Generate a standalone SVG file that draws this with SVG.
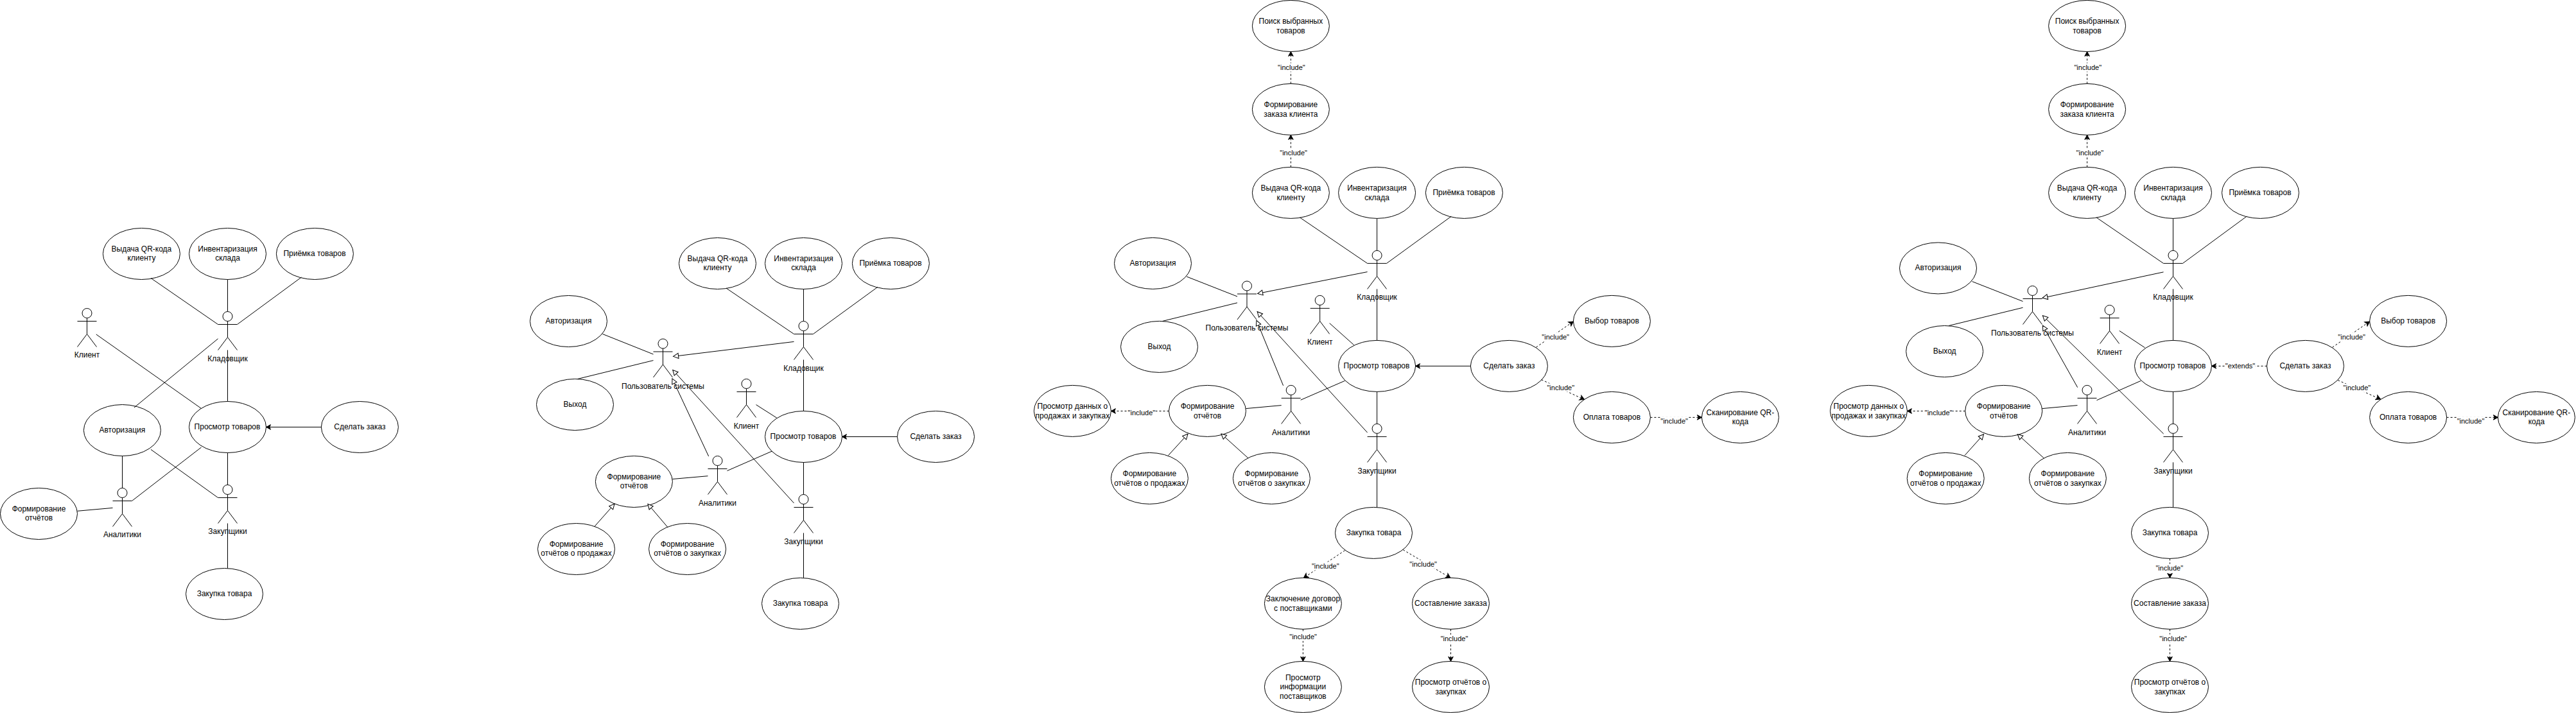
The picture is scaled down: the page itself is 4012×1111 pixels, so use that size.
<svg xmlns="http://www.w3.org/2000/svg" xmlns:xlink="http://www.w3.org/1999/xlink" width="4012" height="1111" viewBox="0 0 4012 1111">
<style>
text{font-family:"Liberation Sans",Arial,sans-serif;font-size:12px;fill:#000;text-anchor:middle}
.u{fill:#fff;stroke:#000;stroke-width:1}
.ac *{fill:none;stroke:#000;stroke-width:1}
#conn line{stroke:#000;stroke-width:1;fill:none}
#conn line.d{stroke-dasharray:3 3}
#conn line.f{marker-end:url(#classic)}
#conn line.h{marker-end:url(#block)}
#conn rect{fill:#fff;stroke:none}
#conn text{font-size:11px}
</style>
<defs>
<marker id="classic" markerUnits="userSpaceOnUse" markerWidth="10" markerHeight="10" viewBox="0 0 10 10" refX="8" refY="5" orient="auto"><path d="M8,5 L1,1.2 L2.8,5 L1,8.8 Z" fill="#000" stroke="#000" stroke-width="1"/></marker>
<marker id="block" markerUnits="userSpaceOnUse" markerWidth="11" markerHeight="11" viewBox="0 0 11 11" refX="9" refY="5.5" orient="auto"><path d="M9,5.5 L1,1.5 L1,9.5 Z" fill="#fff" stroke="#000" stroke-width="1"/></marker>
<g id="actor" class="ac"><ellipse cx="15" cy="7.5" rx="7.5" ry="7.5"/><path d="M15,15V40M0,20H30M15,40L0,60M15,40L30,60"/></g>
</defs>
<rect width="4012" height="1111" fill="#fff"/>

<g id="panel1">
<g id="a-vydacha"><ellipse class="u" cx="220.4" cy="395.5" rx="60" ry="40"/><text><tspan x="220.4" y="391.8">Выдача QR-кода</tspan><tspan x="220.4" y="406.2">клиенту</tspan></text></g>
<g id="a-invent"><ellipse class="u" cx="354.5" cy="395.5" rx="60" ry="40"/><text><tspan x="354.5" y="391.8">Инвентаризация</tspan><tspan x="354.5" y="406.2">склада</tspan></text></g>
<g id="a-priemka"><ellipse class="u" cx="490.4" cy="395.5" rx="60" ry="40"/><text x="490" y="398.5">Приёмка товаров</text></g>
<g id="a-prosmotr"><ellipse class="u" cx="354.5" cy="665.5" rx="60" ry="40"/><text x="354" y="668.5">Просмотр товаров</text></g>
<g id="a-avtor"><ellipse class="u" cx="190.4" cy="670.5" rx="60" ry="40"/><text x="190.4" y="673.5">Авторизация</text></g>
<g id="a-zakaz"><ellipse class="u" cx="560.4" cy="665.5" rx="60" ry="40"/><text x="560.4" y="668.5">Сделать заказ</text></g>
<g id="a-otchet"><ellipse class="u" cx="60.5" cy="800.5" rx="60" ry="40"/><text><tspan x="60.5" y="796.5">Формирование</tspan><tspan x="60.5" y="811">отчётов</tspan></text></g>
<g id="a-zakupka"><ellipse class="u" cx="349.5" cy="925.5" rx="60" ry="40"/><text x="349.5" y="928.5">Закупка товара</text></g>
<g id="a-kladov"><use href="#actor" x="339.5" y="485.5"/><text x="354.5" y="562.8">Кладовщик</text></g>
<g id="a-klient"><use href="#actor" x="120.5" y="480.5"/><text x="135.5" y="557.4">Клиент</text></g>
<g id="a-zakup"><use href="#actor" x="339.5" y="755.5"/><text x="354.5" y="832.3">Закупщики</text></g>
<g id="a-analit"><use href="#actor" x="175.5" y="760.5"/><text x="190.5" y="837">Аналитики</text></g>
</g>

<g id="panel2">
<g id="b-vydacha"><ellipse class="u" cx="1117.5" cy="410.5" rx="60" ry="40"/><text><tspan x="1117.5" y="406.5">Выдача QR-кода</tspan><tspan x="1117.5" y="421">клиенту</tspan></text></g>
<g id="b-invent"><ellipse class="u" cx="1251.5" cy="410.5" rx="60" ry="40"/><text><tspan x="1251.5" y="406.5">Инвентаризация</tspan><tspan x="1251.5" y="421">склада</tspan></text></g>
<g id="b-priemka"><ellipse class="u" cx="1387.4" cy="410.5" rx="60" ry="40"/><text x="1387" y="413.5">Приёмка товаров</text></g>
<g id="b-avtor"><ellipse class="u" cx="885.5" cy="500.5" rx="60" ry="40"/><text x="885.5" y="503.5">Авторизация</text></g>
<g id="b-vyhod"><ellipse class="u" cx="895.5" cy="630.5" rx="60" ry="40"/><text x="895.5" y="633.5">Выход</text></g>
<g id="b-prosmotr"><ellipse class="u" cx="1251.5" cy="680.5" rx="60" ry="40"/><text x="1251" y="683.5">Просмотр товаров</text></g>
<g id="b-zakaz"><ellipse class="u" cx="1457.5" cy="680.5" rx="60" ry="40"/><text x="1457.5" y="683.5">Сделать заказ</text></g>
<g id="b-otchet"><ellipse class="u" cx="987.4" cy="750.5" rx="60" ry="40"/><text><tspan x="987.4" y="746.7">Формирование</tspan><tspan x="987.4" y="761.3">отчётов</tspan></text></g>
<g id="b-prod"><ellipse class="u" cx="897.5" cy="855.5" rx="60" ry="40"/><text><tspan x="897.5" y="851.5">Формирование</tspan><tspan x="897.5" y="866">отчётов о продажах</tspan></text></g>
<g id="b-zakup-ot"><ellipse class="u" cx="1070.6" cy="855.5" rx="60" ry="40"/><text><tspan x="1070.6" y="851.5">Формирование</tspan><tspan x="1070.6" y="866">отчётов о закупках</tspan></text></g>
<g id="b-zakupka"><ellipse class="u" cx="1246.5" cy="940.5" rx="60" ry="40"/><text x="1246.5" y="943.5">Закупка товара</text></g>
<g id="b-polz"><use href="#actor" x="1017.5" y="528"/><text x="1032.5" y="605.9">Пользователь системы</text></g>
<g id="b-kladov"><use href="#actor" x="1236.5" y="500.5"/><text x="1251.5" y="577.6">Кладовщик</text></g>
<g id="b-klient"><use href="#actor" x="1147.5" y="590.5"/><text x="1162.5" y="667.6">Клиент</text></g>
<g id="b-analit"><use href="#actor" x="1102.5" y="710.5"/><text x="1117.5" y="787.8">Аналитики</text></g>
<g id="b-zakup"><use href="#actor" x="1236.5" y="770.5"/><text x="1251.5" y="847.7">Закупщики</text></g>
</g>

<g id="panel3">
<g id="c-poisk"><ellipse class="u" cx="2010.4" cy="40.5" rx="60" ry="40"/><text><tspan x="2010.4" y="36.5">Поиск выбранных</tspan><tspan x="2010.4" y="51.5">товаров</tspan></text></g>
<g id="c-formzak"><ellipse class="u" cx="2010.4" cy="170.4" rx="60" ry="40"/><text><tspan x="2010.4" y="166.5">Формирование</tspan><tspan x="2010.4" y="181.5">заказа клиента</tspan></text></g>
<g id="c-vydacha"><ellipse class="u" cx="2010.4" cy="300.4" rx="60" ry="40"/><text><tspan x="2010.4" y="296.7">Выдача QR-кода</tspan><tspan x="2010.4" y="311.7">клиенту</tspan></text></g>
<g id="c-invent"><ellipse class="u" cx="2144.6" cy="300.4" rx="60" ry="40"/><text><tspan x="2144.6" y="296.7">Инвентаризация</tspan><tspan x="2144.6" y="311.7">склада</tspan></text></g>
<g id="c-priemka"><ellipse class="u" cx="2280.4" cy="300.4" rx="60" ry="40"/><text x="2280" y="303.5">Приёмка товаров</text></g>
<g id="c-avtor"><ellipse class="u" cx="1795.5" cy="410.4" rx="60" ry="40"/><text x="1795.5" y="413.5">Авторизация</text></g>
<g id="c-vyhod"><ellipse class="u" cx="1805.5" cy="540.4" rx="60" ry="40"/><text x="1805.5" y="543.5">Выход</text></g>
<g id="c-prosmotr"><ellipse class="u" cx="2144.6" cy="570.4" rx="60" ry="40"/><text x="2144" y="573.5">Просмотр товаров</text></g>
<g id="c-zakaz"><ellipse class="u" cx="2350.4" cy="570.4" rx="60" ry="40"/><text x="2350.4" y="573.5">Сделать заказ</text></g>
<g id="c-vybor"><ellipse class="u" cx="2510.4" cy="500.4" rx="60" ry="40"/><text x="2510.4" y="503.5">Выбор товаров</text></g>
<g id="c-oplata"><ellipse class="u" cx="2510.4" cy="650.4" rx="60" ry="40"/><text x="2510.4" y="653.5">Оплата товаров</text></g>
<g id="c-skan"><ellipse class="u" cx="2710.4" cy="650.4" rx="60" ry="40"/><text><tspan x="2710.4" y="646.7">Сканирование QR-</tspan><tspan x="2710.4" y="661">кода</tspan></text></g>
<g id="c-dannye"><ellipse class="u" cx="1670.4" cy="640.4" rx="60" ry="40"/><text><tspan x="1670.4" y="636.7">Просмотр данных о</tspan><tspan x="1670.4" y="651.7">продажах и закупках</tspan></text></g>
<g id="c-otchet"><ellipse class="u" cx="1880.5" cy="640.4" rx="60" ry="40"/><text><tspan x="1880.5" y="636.7">Формирование</tspan><tspan x="1880.5" y="651.7">отчётов</tspan></text></g>
<g id="c-prod"><ellipse class="u" cx="1790.4" cy="745.4" rx="60" ry="40"/><text><tspan x="1790.4" y="741.7">Формирование</tspan><tspan x="1790.4" y="756.7">отчётов о продажах</tspan></text></g>
<g id="c-zakup-ot"><ellipse class="u" cx="1980.4" cy="745.4" rx="60" ry="40"/><text><tspan x="1980.4" y="741.7">Формирование</tspan><tspan x="1980.4" y="756.7">отчётов о закупках</tspan></text></g>
<g id="c-zakupka"><ellipse class="u" cx="2139.5" cy="830.4" rx="60" ry="40"/><text x="2139.5" y="833.5">Закупка товара</text></g>
<g id="c-dogovor"><ellipse class="u" cx="2029.4" cy="940.4" rx="60" ry="40"/><text><tspan x="2029.4" y="936.7">Заключение договор</tspan><tspan x="2029.4" y="951.7">с поставщиками</tspan></text></g>
<g id="c-info"><ellipse class="u" cx="2029.4" cy="1070.4" rx="60" ry="40"/><text><tspan x="2029.4" y="1059.9">Просмотр</tspan><tspan x="2029.4" y="1074.3">информации</tspan><tspan x="2029.4" y="1089">поставщиков</tspan></text></g>
<g id="c-sostav"><ellipse class="u" cx="2259.5" cy="940.4" rx="60" ry="40"/><text x="2259.5" y="943.5">Составление заказа</text></g>
<g id="c-prosm-zak"><ellipse class="u" cx="2259.5" cy="1070.4" rx="60" ry="40"/><text><tspan x="2259.5" y="1066.7">Просмотр отчётов о</tspan><tspan x="2259.5" y="1081.7">закупках</tspan></text></g>
<g id="c-polz"><use href="#actor" x="1927" y="438"/><text x="1942" y="515.4">Пользователь системы</text></g>
<g id="c-kladov"><use href="#actor" x="2129.6" y="390.4"/><text x="2144.6" y="467">Кладовщик</text></g>
<g id="c-klient"><use href="#actor" x="2040.7" y="460.4"/><text x="2055.7" y="537.2">Клиент</text></g>
<g id="c-analit"><use href="#actor" x="1995.7" y="600.4"/><text x="2010.7" y="677.8">Аналитики</text></g>
<g id="c-zakup"><use href="#actor" x="2129.6" y="660.4"/><text x="2144.6" y="737.5">Закупщики</text></g>
</g>

<g id="panel4">
<g id="d-poisk"><ellipse class="u" cx="3250.6" cy="40.5" rx="60" ry="40"/><text><tspan x="3250.6" y="36.5">Поиск выбранных</tspan><tspan x="3250.6" y="51.5">товаров</tspan></text></g>
<g id="d-formzak"><ellipse class="u" cx="3250.6" cy="170.4" rx="60" ry="40"/><text><tspan x="3250.6" y="166.5">Формирование</tspan><tspan x="3250.6" y="181.5">заказа клиента</tspan></text></g>
<g id="d-vydacha"><ellipse class="u" cx="3250.6" cy="300.4" rx="60" ry="40"/><text><tspan x="3250.6" y="296.7">Выдача QR-кода</tspan><tspan x="3250.6" y="311.7">клиенту</tspan></text></g>
<g id="d-invent"><ellipse class="u" cx="3384.5" cy="300.4" rx="60" ry="40"/><text><tspan x="3384.5" y="296.7">Инвентаризация</tspan><tspan x="3384.5" y="311.7">склада</tspan></text></g>
<g id="d-priemka"><ellipse class="u" cx="3520.5" cy="300.4" rx="60" ry="40"/><text x="3520" y="303.5">Приёмка товаров</text></g>
<g id="d-avtor"><ellipse class="u" cx="3018.5" cy="417.9" rx="60" ry="40"/><text x="3018.5" y="421">Авторизация</text></g>
<g id="d-vyhod"><ellipse class="u" cx="3028.6" cy="547.5" rx="60" ry="40"/><text x="3028.6" y="551">Выход</text></g>
<g id="d-prosmotr"><ellipse class="u" cx="3384.5" cy="570.4" rx="60" ry="40"/><text x="3384" y="573.5">Просмотр товаров</text></g>
<g id="d-zakaz"><ellipse class="u" cx="3590.5" cy="570.4" rx="60" ry="40"/><text x="3590.5" y="573.5">Сделать заказ</text></g>
<g id="d-vybor"><ellipse class="u" cx="3750.6" cy="500.4" rx="60" ry="40"/><text x="3750.6" y="503.5">Выбор товаров</text></g>
<g id="d-oplata"><ellipse class="u" cx="3750.6" cy="650.4" rx="60" ry="40"/><text x="3750.6" y="653.5">Оплата товаров</text></g>
<g id="d-skan"><ellipse class="u" cx="3950.4" cy="650.4" rx="60" ry="40"/><text><tspan x="3950.4" y="646.7">Сканирование QR-</tspan><tspan x="3950.4" y="661">кода</tspan></text></g>
<g id="d-dannye"><ellipse class="u" cx="2910.4" cy="640.4" rx="60" ry="40"/><text><tspan x="2910.4" y="636.7">Просмотр данных о</tspan><tspan x="2910.4" y="651.7">продажах и закупках</tspan></text></g>
<g id="d-otchet"><ellipse class="u" cx="3120.7" cy="640.4" rx="60" ry="40"/><text><tspan x="3120.7" y="636.7">Формирование</tspan><tspan x="3120.7" y="651.7">отчётов</tspan></text></g>
<g id="d-prod"><ellipse class="u" cx="3030.2" cy="745.4" rx="60" ry="40"/><text><tspan x="3030.2" y="741.7">Формирование</tspan><tspan x="3030.2" y="756.7">отчётов о продажах</tspan></text></g>
<g id="d-zakup-ot"><ellipse class="u" cx="3220.4" cy="745.4" rx="60" ry="40"/><text><tspan x="3220.4" y="741.7">Формирование</tspan><tspan x="3220.4" y="756.7">отчётов о закупках</tspan></text></g>
<g id="d-zakupka"><ellipse class="u" cx="3379.5" cy="830.4" rx="60" ry="40"/><text x="3379.5" y="833.5">Закупка товара</text></g>
<g id="d-sostav"><ellipse class="u" cx="3379.5" cy="940.4" rx="60" ry="40"/><text x="3379.5" y="943.5">Составление заказа</text></g>
<g id="d-prosm-zak"><ellipse class="u" cx="3379.5" cy="1070.4" rx="60" ry="40"/><text><tspan x="3379.5" y="1066.7">Просмотр отчётов о</tspan><tspan x="3379.5" y="1081.7">закупках</tspan></text></g>
<g id="d-polz"><use href="#actor" x="3150.5" y="445.5"/><text x="3165.5" y="522.6">Пользователь системы</text></g>
<g id="d-kladov"><use href="#actor" x="3369.5" y="390.4"/><text x="3384.5" y="467">Кладовщик</text></g>
<g id="d-klient"><use href="#actor" x="3270.6" y="475.5"/><text x="3285.6" y="553">Клиент</text></g>
<g id="d-analit"><use href="#actor" x="3235.5" y="600.4"/><text x="3250.5" y="677.8">Аналитики</text></g>
<g id="d-zakup"><use href="#actor" x="3369.5" y="660.4"/><text x="3384.5" y="737.5">Закупщики</text></g>
</g>

<g id="conn">
<!-- panel 1 -->
<line x1="235" y1="433.4" x2="339.5" y2="505.5"/>
<line x1="354.5" y1="435.5" x2="354.5" y2="485.5"/>
<line x1="469.4" y1="432" x2="369.5" y2="505.5"/>
<line x1="149.8" y1="521" x2="313.5" y2="636.5"/>
<line x1="339.5" y1="527.8" x2="209" y2="635"/>
<line x1="354.5" y1="545.5" x2="354.5" y2="625.5"/>
<line class="f" x1="500.4" y1="665.5" x2="414.5" y2="665.5"/>
<line x1="354.5" y1="705.5" x2="354.5" y2="755.5"/>
<line x1="235" y1="700.4" x2="339.5" y2="775.5"/>
<line x1="313.5" y1="697" x2="205.5" y2="780.5"/>
<line x1="190.5" y1="710.5" x2="190.5" y2="760.5"/>
<line x1="120.5" y1="796.3" x2="175.5" y2="791.4"/>
<line x1="354.5" y1="815.5" x2="354.5" y2="885.5"/>
<!-- panel 2 -->
<line x1="1131" y1="449" x2="1236.5" y2="520.5"/>
<line x1="1251.5" y1="450.5" x2="1251.5" y2="500.5"/>
<line x1="1367" y1="447.2" x2="1266.5" y2="520.5"/>
<line class="h" x1="1236.5" y1="532.4" x2="1048.6" y2="555.4"/>
<line x1="938.4" y1="520.4" x2="1017.5" y2="552"/>
<line x1="899.6" y1="590.5" x2="1017.5" y2="561.6"/>
<line x1="1177.5" y1="630.6" x2="1209.8" y2="651.2"/>
<line x1="1251.5" y1="560.5" x2="1251.5" y2="640.5"/>
<line class="f" x1="1397.5" y1="680.5" x2="1311.5" y2="680.5"/>
<line x1="1251.5" y1="720.5" x2="1251.5" y2="770.5"/>
<line x1="1202.4" y1="703" x2="1132.5" y2="733.6"/>
<line x1="1047.4" y1="746.5" x2="1102.5" y2="741.7"/>
<line class="h" x1="1103.7" y1="711" x2="1047" y2="589.9"/>
<line class="h" x1="1236.5" y1="783.9" x2="1047.8" y2="576.5"/>
<line class="h" x1="926" y1="820.3" x2="957" y2="785.3"/>
<line class="h" x1="1039.6" y1="821.2" x2="1009" y2="785.3"/>
<line x1="1251.5" y1="830.5" x2="1251.5" y2="900.5"/>
<!-- panel 3 -->
<line x1="2024.6" y1="339" x2="2129.6" y2="410.4"/>
<line x1="2144.6" y1="340.4" x2="2144.6" y2="390.4"/>
<line x1="2260.2" y1="337.2" x2="2159.6" y2="410.4"/>
<line class="h" x1="2129.6" y1="423.6" x2="1958.6" y2="457.5"/>
<line x1="1848.2" y1="431" x2="1927" y2="462"/>
<line x1="1810.7" y1="500.4" x2="1927" y2="471.8"/>
<line x1="2070.7" y1="503.6" x2="2108.6" y2="537.5"/>
<line x1="2144.6" y1="450.4" x2="2144.6" y2="530.4"/>
<line class="f" x1="2290.4" y1="570.4" x2="2204.6" y2="570.4"/>
<line class="h" x1="1998.6" y1="600.8" x2="1957" y2="499.3"/>
<line class="h" x1="2129.6" y1="674" x2="1958.2" y2="485.7"/>
<line x1="2094.6" y1="593.3" x2="2025.7" y2="623.3"/>
<line x1="1940.5" y1="636.6" x2="1995.7" y2="631.6"/>
<line x1="2144.6" y1="610.4" x2="2144.6" y2="660.4"/>
<line class="h" x1="1819.6" y1="709.6" x2="1850" y2="676.3"/>
<line class="h" x1="1944" y1="713.9" x2="1902" y2="676"/>
<line x1="2144.6" y1="720.4" x2="2144.6" y2="790.4"/>
<!-- panel 4 -->
<line x1="3265.2" y1="339" x2="3369.5" y2="410.4"/>
<line x1="3384.5" y1="340.4" x2="3384.5" y2="390.4"/>
<line x1="3499.3" y1="337" x2="3399.5" y2="410.4"/>
<line class="h" x1="3369.5" y1="423.9" x2="3181" y2="464.3"/>
<line x1="3071.5" y1="438.6" x2="3150.5" y2="469.6"/>
<line x1="3035.2" y1="507.5" x2="3150.5" y2="479.3"/>
<line x1="3300.8" y1="515.4" x2="3340.6" y2="541.8"/>
<line x1="3384.5" y1="450.4" x2="3384.5" y2="530.4"/>
<line class="h" x1="3235.7" y1="603.7" x2="3181.4" y2="507.1"/>
<line class="h" x1="3369.7" y1="676" x2="3181.4" y2="491.8"/>
<line x1="3334.4" y1="593.3" x2="3265.5" y2="623.7"/>
<line x1="3180.7" y1="636.6" x2="3235.5" y2="631.6"/>
<line x1="3384.5" y1="610.4" x2="3384.5" y2="660.4"/>
<line class="h" x1="3060" y1="709.6" x2="3089.5" y2="676.7"/>
<line class="h" x1="3183.3" y1="713.9" x2="3142.3" y2="676.7"/>
<line x1="3384.5" y1="720.4" x2="3384.5" y2="790.4"/>
<!-- dashed, panel 3 -->
<line class="d f" x1="2010.4" y1="260.4" x2="2010.4" y2="210.4"/>
<line class="d f" x1="2010.4" y1="130.4" x2="2010.4" y2="80.5"/>
<line class="d f" x1="1820.5" y1="640.5" x2="1730.4" y2="640.5"/>
<line class="d f" x1="2094.6" y1="857.7" x2="2030.4" y2="900.4"/>
<line class="d f" x1="2029.4" y1="980.4" x2="2029.4" y2="1030.4"/>
<line class="d f" x1="2185.3" y1="856.7" x2="2259" y2="900.4"/>
<line class="d f" x1="2259.5" y1="980.4" x2="2259.5" y2="1030.4"/>
<line class="d f" x1="2392.4" y1="541.1" x2="2450.4" y2="501"/>
<line class="d f" x1="2400.6" y1="591.6" x2="2467.6" y2="622.6"/>
<line class="d f" x1="2570.4" y1="650.4" x2="2650.4" y2="650.4"/>
<!-- dashed, panel 4 -->
<line class="d f" x1="3250.6" y1="260.4" x2="3250.6" y2="210.4"/>
<line class="d f" x1="3250.6" y1="130.4" x2="3250.6" y2="80.5"/>
<line class="d f" x1="3060.7" y1="640.5" x2="2970.4" y2="640.5"/>
<line class="d f" x1="3379.5" y1="870.4" x2="3379.5" y2="900.4"/>
<line class="d f" x1="3379.5" y1="980.4" x2="3379.5" y2="1030.4"/>
<line class="d f" x1="3530.5" y1="570.4" x2="3444.5" y2="570.4"/>
<line class="d f" x1="3632.6" y1="541.2" x2="3690.6" y2="501"/>
<line class="d f" x1="3641.2" y1="592.5" x2="3707.6" y2="622"/>
<line class="d f" x1="3810.6" y1="650.4" x2="3890.4" y2="650.4"/>
<!-- connector labels -->
<g><rect x="1993" y="98.5" width="43" height="13"/><text x="2011.4" y="109">"include"</text></g>
<g><rect x="1993" y="231.5" width="43" height="13"/><text x="2014.6" y="242.2">"include"</text></g>
<g><rect x="1756.4" y="636.5" width="43" height="13"/><text x="1777.9" y="647">"include"</text></g>
<g><rect x="2042.8" y="875.5" width="43" height="13"/><text x="2064.3" y="886">"include"</text></g>
<g><rect x="2008.1" y="985.7" width="43" height="13"/><text x="2029.6" y="996.2">"include"</text></g>
<g><rect x="2195.2" y="872.8" width="43" height="13"/><text x="2216.7" y="883.3">"include"</text></g>
<g><rect x="2243.5" y="988.8" width="43" height="13"/><text x="2265" y="999.3">"include"</text></g>
<g><rect x="2401.2" y="518.5" width="43" height="13"/><text x="2422.7" y="529">"include"</text></g>
<g><rect x="2409.3" y="597.4" width="43" height="13"/><text x="2430.8" y="607.9">"include"</text></g>
<g><rect x="2586.1" y="649.5" width="43" height="13"/><text x="2607.6" y="660">"include"</text></g>
<g><rect x="3230.3" y="98.5" width="43" height="13"/><text x="3251.8" y="109">"include"</text></g>
<g><rect x="3233.4" y="231.7" width="43" height="13"/><text x="3254.9" y="242.2">"include"</text></g>
<g><rect x="2997.6" y="636.5" width="43" height="13"/><text x="3019.1" y="647">"include"</text></g>
<g><rect x="3357.3" y="878.7" width="43" height="13"/><text x="3378.8" y="889.2">"include"</text></g>
<g><rect x="3363.1" y="988.5" width="43" height="13"/><text x="3384.6" y="999">"include"</text></g>
<g><rect x="3465.5" y="563.4" width="47" height="13"/><text x="3489" y="573.9">"extends"</text></g>
<g><rect x="3641.2" y="518.6" width="43" height="13"/><text x="3662.7" y="529.1">"include"</text></g>
<g><rect x="3649.4" y="597.9" width="43" height="13"/><text x="3670.9" y="608.4">"include"</text></g>
<g><rect x="3826.5" y="649.5" width="43" height="13"/><text x="3848" y="660">"include"</text></g>
</g>
</svg>
